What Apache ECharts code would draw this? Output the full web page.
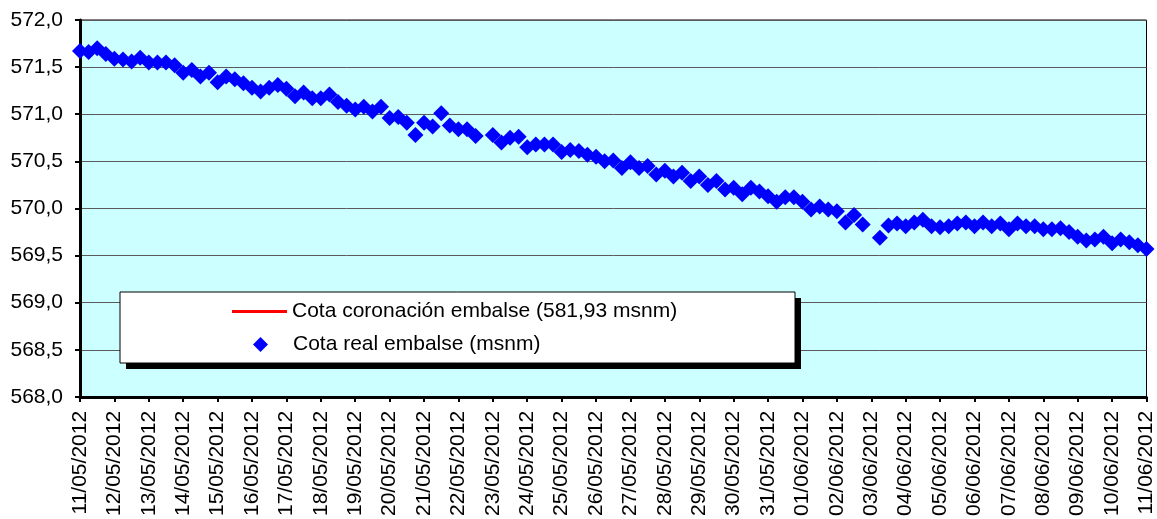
<!DOCTYPE html>
<html>
<head>
<meta charset="utf-8">
<title>Cota embalse</title>
<script src="https://cdn.jsdelivr.net/npm/echarts@6/dist/echarts.min.js"></script>
<style>
  html, body { margin: 0; padding: 0; background: #ffffff; }
  #chart { width: 1157px; height: 519px; }
</style>
</head>
<body>
<div id="chart"></div>
<script>
// Fechas del eje X (un rótulo por día)
const fechas = [
  '11/05/2012','12/05/2012','13/05/2012','14/05/2012','15/05/2012','16/05/2012',
  '17/05/2012','18/05/2012','19/05/2012','20/05/2012','21/05/2012','22/05/2012',
  '23/05/2012','24/05/2012','25/05/2012','26/05/2012','27/05/2012','28/05/2012',
  '29/05/2012','30/05/2012','31/05/2012','01/06/2012','02/06/2012','03/06/2012',
  '04/06/2012','05/06/2012','06/06/2012','07/06/2012','08/06/2012','09/06/2012',
  '10/06/2012','11/06/2012'
];

// Lecturas cada 6 horas (4 por día); null = sin lectura
const MUESTRAS_DIA = 4;
const cotaReal = [
  571.67, 571.66, 571.70, 571.64, 571.59, 571.58, 571.56, 571.60,
  571.55, 571.55, 571.55, 571.52, 571.44, 571.47, 571.40, 571.44,
  571.34, 571.40, 571.37, 571.33, 571.28, 571.24, 571.28, 571.31,
  571.27, 571.19, 571.23, 571.17, 571.17, 571.21, 571.13, 571.09,
  571.05, 571.08, 571.03, 571.08, 570.96, 570.97, 570.91, 570.78,
  570.91, 570.87, 571.01, 570.88, 570.84, 570.84, 570.77, null,
  570.78, 570.70, 570.75, 570.76, 570.65, 570.68, 570.68, 570.68,
  570.60, 570.62, 570.61, 570.57, 570.55, 570.50, 570.51, 570.43,
  570.49, 570.43, 570.45, 570.36, 570.40, 570.34, 570.38, 570.29,
  570.34, 570.25, 570.29, 570.20, 570.22, 570.15, 570.22, 570.18,
  570.13, 570.07, 570.12, 570.12, 570.07, 569.99, 570.02, 569.99,
  569.97, 569.85, 569.93, 569.83, null,   569.69, 569.82, 569.84,
  569.81, 569.85, 569.88, 569.81, 569.80, 569.81, 569.84, 569.85,
  569.81, 569.85, 569.81, 569.84, 569.78, 569.84, 569.81, 569.81,
  569.78, 569.78, 569.79, 569.75, 569.70, 569.66, 569.67, 569.70,
  569.63, 569.67, 569.64, 569.61, 569.57
];

// Cota de coronación de la presa (fuera del rango visible del eje)
const cotaCoronacion = 581.93;

// Eje Y
const yMin = 568, yMax = 572, yPaso = 0.5;

const FUENTE = '"Liberation Sans", Arial, sans-serif';
const SERIE_CORONACION = 'Cota coronación embalse (581,93 msnm)';
const SERIE_REAL = 'Cota real embalse (msnm)';

const puntos = [];
cotaReal.forEach(function (v, i) {
  if (v !== null) puntos.push([i / MUESTRAS_DIA, v]);
});
const ultimoDia = fechas.length - 1;

const chart = echarts.init(document.getElementById('chart'), null, { renderer: 'canvas' });

chart.setOption({
  animation: false,
  backgroundColor: '#ffffff',
  grid: {
    left: 80, right: 9, top: 20, bottom: 121,
    show: true,
    backgroundColor: '#CCFFFF',
    borderColor: '#000000',
    borderWidth: 1
  },
  xAxis: {
    type: 'value',
    min: 0,
    max: ultimoDia,
    interval: 1,
    axisLine: { onZero: false, lineStyle: { color: '#000000', width: 3 } },
    axisTick: { show: true, length: 5, lineStyle: { color: '#000000', width: 2 } },
    splitLine: { show: false },
    axisLabel: {
      rotate: 90,
      margin: 14,
      color: '#000000',
      fontFamily: FUENTE,
      fontSize: 21,
      showMinLabel: true,
      showMaxLabel: true,
      formatter: function (v) { return fechas[Math.round(v)] || ''; }
    }
  },
  yAxis: {
    type: 'value',
    min: yMin,
    max: yMax,
    interval: yPaso,
    axisLine: { show: true, lineStyle: { color: '#000000', width: 3 } },
    axisTick: { show: true, length: 5, lineStyle: { color: '#000000', width: 2 } },
    splitLine: { show: true, lineStyle: { color: '#5a5a5a', width: 1 } },
    axisLabel: {
      margin: 17,
      color: '#000000',
      fontFamily: FUENTE,
      fontSize: 21,
      formatter: function (v) { return v.toFixed(1).replace('.', ','); }
    }
  },
  // Marco de la leyenda con su sombra
  graphic: [
    { type: 'rect', z: 20, shape: { x: 126, y: 298, width: 675, height: 71 },
      style: { fill: '#000000' } },
    { type: 'rect', z: 21, shape: { x: 120, y: 292, width: 675, height: 71 },
      style: { fill: '#ffffff', stroke: '#000000', lineWidth: 1 } }
  ],
  legend: [
    {
      z: 30,
      left: 232,
      top: 301,
      padding: 0,
      itemWidth: 55,
      itemHeight: 3,
      textStyle: { color: '#000000', fontFamily: FUENTE, fontSize: 21 },
      data: [{ name: SERIE_CORONACION, icon: 'rect' }]
    },
    {
      z: 30,
      left: 253,
      top: 334,
      padding: 0,
      itemWidth: 15,
      itemHeight: 15,
      textStyle: {
        color: '#000000', fontFamily: FUENTE, fontSize: 21,
        padding: [0, 0, 0, 20]
      },
      data: [{ name: SERIE_REAL, icon: 'diamond' }]
    }
  ],
  series: [
    {
      name: SERIE_CORONACION,
      type: 'line',
      symbol: 'none',
      showSymbol: false,
      clip: true,
      lineStyle: { color: '#FF0000', width: 2 },
      itemStyle: { color: '#FF0000' },
      data: [[0, cotaCoronacion], [ultimoDia, cotaCoronacion]]
    },
    {
      name: SERIE_REAL,
      type: 'scatter',
      symbol: 'diamond',
      symbolSize: 16,
      itemStyle: { color: '#0000FF', opacity: 1 },
      data: puntos
    }
  ]
});
</script>
</body>
</html>
